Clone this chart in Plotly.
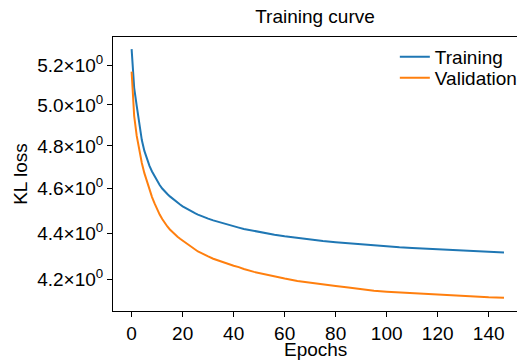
import plotly.graph_objects as go

# Training / validation KL loss per epoch
train_epochs = [0, 1, 2, 3, 4, 5, 6, 7, 8, 9, 10, 11, 12, 13, 14, 15, 16, 17, 18, 19,
                20, 21, 22, 23, 24, 25, 26, 27, 28, 29, 30, 32, 34, 36, 38, 40, 42, 44,
                48, 52, 56, 60, 65, 70, 75, 80, 85, 90, 95, 100, 105, 110, 115, 120,
                125, 130, 135, 140, 146]
train_loss = [5.286, 5.086, 4.995, 4.906, 4.828, 4.776, 4.735, 4.705, 4.679, 4.656,
              4.635, 4.616, 4.600, 4.586, 4.575, 4.564, 4.554, 4.544, 4.535, 4.527,
              4.519, 4.512, 4.505, 4.499, 4.493, 4.487, 4.482, 4.477, 4.473, 4.468,
              4.464, 4.456, 4.449, 4.442, 4.436, 4.430, 4.424, 4.418,
              4.409, 4.401, 4.393, 4.386, 4.378, 4.372, 4.365, 4.360, 4.355, 4.351,
              4.346, 4.342, 4.338, 4.335, 4.332, 4.329, 4.326, 4.323, 4.320, 4.318, 4.316]

val_epochs = train_epochs
val_loss = [5.169, 4.945, 4.848, 4.776, 4.719, 4.671, 4.630, 4.593, 4.561, 4.532,
            4.505, 4.482, 4.462, 4.444, 4.429, 4.416, 4.404, 4.393, 4.384, 4.375,
            4.367, 4.357, 4.348, 4.340, 4.333, 4.326, 4.320, 4.315, 4.309, 4.304,
            4.299, 4.289, 4.281, 4.273, 4.266, 4.259, 4.253, 4.245,
            4.233, 4.223, 4.212, 4.205, 4.195, 4.187, 4.180, 4.174, 4.168, 4.160,
            4.154, 4.150, 4.147, 4.143, 4.139, 4.136, 4.134, 4.132, 4.129, 4.127, 4.125]

x_ticks = [0, 20, 40, 60, 80, 100, 120, 140]
y_ticks = [4.2, 4.4, 4.6, 4.8, 5.0, 5.2]
y_tick_text = ["4.2×10<sup>0</sup>", "4.4×10<sup>0</sup>", "4.6×10<sup>0</sup>",
               "4.8×10<sup>0</sup>", "5.0×10<sup>0</sup>", "5.2×10<sup>0</sup>"]

FONT = "Liberation Sans, Arial, sans-serif"
FS = 19
text_font = dict(family=FONT, size=FS, color="black")

fig = go.Figure()
fig.add_trace(go.Scatter(x=train_epochs, y=train_loss, mode="lines", name="Training",
                         line=dict(color="#1f77b4", width=2), legend="legend"))
fig.add_trace(go.Scatter(x=val_epochs, y=val_loss, mode="lines", name="Validation",
                         line=dict(color="#ff7f0e", width=2), legend="legend2"))

legend_style = dict(xanchor="left", yanchor="top", bgcolor="rgba(0,0,0,0)", font=text_font)

fig.update_layout(
    width=523, height=360,
    margin=dict(l=113, r=0, t=37, b=49),
    paper_bgcolor="white", plot_bgcolor="white",
    font=text_font,
    title=dict(text="Training curve", x=0.5, xref="paper", xanchor="center",
               y=1, yref="container", yanchor="top", pad=dict(t=10), font=text_font),
    showlegend=True,
    legend=dict(x=0.6976, y=0.9964, **legend_style),
    legend2=dict(x=0.6976, y=0.9197, **legend_style),
    xaxis=dict(range=[-7.3, 151.1], tickvals=x_ticks, ticks="outside", ticklen=5,
               tickcolor="black", tickwidth=1, showline=True, linecolor="black",
               linewidth=1, mirror=True, showgrid=False, zeroline=False,
               tickfont=text_font),
    yaxis=dict(type="log", range=[0.6097, 0.7284], tickvals=y_ticks, ticktext=y_tick_text,
               ticks="outside", ticklen=5, tickcolor="black", tickwidth=1,
               showline=True, linecolor="black", linewidth=1, mirror=False,
               showgrid=False, zeroline=False, tickfont=text_font,
               title=dict(text="KL loss", standoff=4, font=text_font)),
    annotations=[dict(text="Epochs", x=0.5, xref="paper", xanchor="center",
                      y=-0.1387, yref="paper", yanchor="middle", showarrow=False,
                      font=text_font)],
)

fig.write_html("out.html")
